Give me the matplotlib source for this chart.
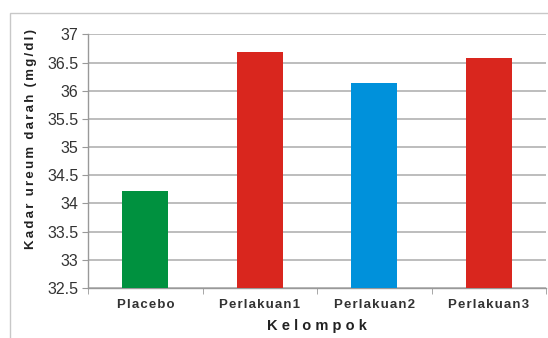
import numpy as np
import matplotlib.pyplot as plt
from matplotlib.patches import Rectangle

plt.rcParams['font.family'] = ['Liberation Sans', 'DejaVu Sans']

# mean urea level per group
groups = ['Placebo', 'Perlakuan1', 'Perlakuan2', 'Perlakuan3']
kadar = [34.23, 36.69, 36.13, 36.59]
colors = ['#00913f', '#d9261e', '#0091db', '#d9261e']
yticks = [32.5, 33, 33.5, 34, 34.5, 35, 35.5, 36, 36.5, 37]


def spaced(s, gap=' ', wgap='  '):
    # spread letters apart, words get a wider gap
    return wgap.join(gap.join(w) for w in s.split(' '))


fig = plt.figure(figsize=(5.48, 3.38), dpi=100)
ax = fig.add_axes([0.1606, 0.148, 0.8358, 0.750])

# light frame around the chart
fig.patches.append(Rectangle((10 / 548, -0.1), 1.2, 1.1 - 13 / 338,
                             transform=fig.transFigure, fill=False,
                             edgecolor='#c8c8c8', linewidth=1.0))

x = np.arange(len(groups))
ax.bar(x, np.array(kadar) - 32.5, bottom=32.5, width=0.4, color=colors,
       zorder=3)

ax.set_ylim(32.5, 37)
ax.set_xlim(-0.5, 3.5)
ax.set_yticks(yticks)
ax.set_yticklabels([f'{v:g}' for v in yticks], fontsize=11.5, color='#333333')
ax.yaxis.grid(True, color='#bdbdbd', linewidth=1.4, zorder=0)

ax.set_xticks(x)
ax.set_xticklabels([spaced(g, '\u200a') for g in groups], fontsize=9.5,
                   fontweight='bold', color='#333333')
ax.set_xticks(np.arange(-0.5, 3.6, 1), minor=True)
ax.tick_params(axis='x', which='major', length=0, pad=8)
ax.tick_params(axis='x', which='minor', length=4, color='#999999')
ax.tick_params(axis='y', length=4, color='#999999', pad=3)

for side in ['top', 'right']:
    ax.spines[side].set_visible(False)
for side in ['left', 'bottom']:
    ax.spines[side].set_color('#999999')
    ax.spines[side].set_linewidth(1.0)

ax.set_xlabel(spaced('Kelompok'), fontsize=10.5, fontweight='bold',
              color='#222222', labelpad=6)
ax.set_ylabel(spaced('Kadar ureum darah (mg/dl)', '\u200a\u200a', '  '),
              fontsize=9.5, fontweight='bold', color='#222222')
ax.yaxis.set_label_coords(-0.111, 0.588)

fig.savefig('out.png', dpi=100)
